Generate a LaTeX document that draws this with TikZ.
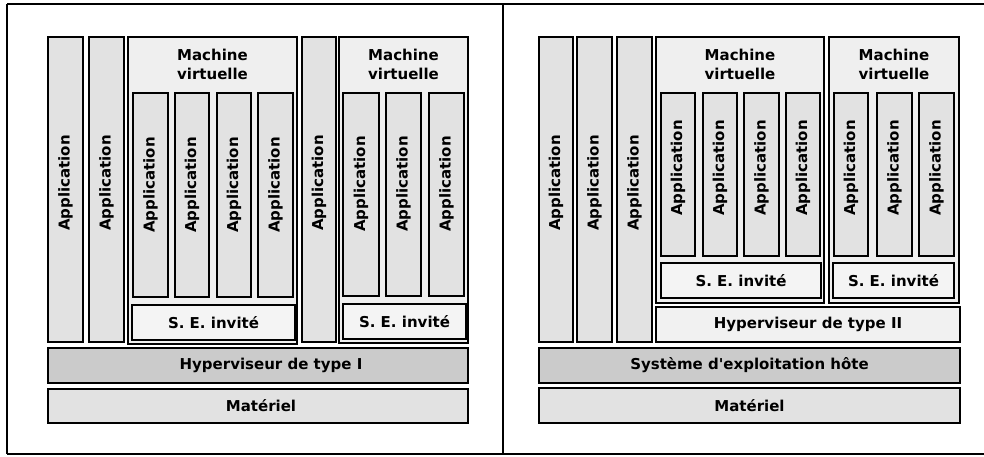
\documentclass[tikz,border=0pt]{standalone}
\usepackage{fontspec}
\setmainfont{DejaVu Sans}
% family without TeX ligature mapping, so ' stays a straight apostrophe
\newfontfamily\labelfont{DejaVu Sans}
\usetikzlibrary{fit}
\definecolor{appfill}{HTML}{E2E2E2}
\definecolor{vmfill}{HTML}{EFEFEF}
\definecolor{sefill}{HTML}{F4F4F4}
\definecolor{darkfill}{HTML}{CBCBCB}
\definecolor{hwfill}{HTML}{E2E2E2}
\definecolor{hypfill}{HTML}{F1F1F1}
\begin{document}
\begin{tikzpicture}[x=1pt,y=-1pt,
  frame/.style={line width=1.4pt},
  blk/.style={draw, inner sep=0pt, outer sep=0pt, line width=1.8pt},
  outerapp/.style={blk, fill=appfill},
  innerapp/.style={blk, line width=1.2pt, fill=appfill},
  vmbox/.style={blk, line width=1.5pt, fill=vmfill},
  sebox/.style={blk, line width=1.5pt, fill=sefill},
  darkbar/.style={blk, fill=darkfill},
  hwbar/.style={blk, fill=hwfill},
  hypbar/.style={blk, line width=1.5pt, fill=hypfill},
  lbl/.style={font=\labelfont\fontsize{15}{18}\selectfont\bfseries, inner sep=0pt},
  applbl/.style={lbl, rotate=90},
  vmlbl/.style={lbl, align=center, font=\labelfont\fontsize{15}{19}\selectfont\bfseries}
]
\useasboundingbox (0,0) rectangle (984,456);

% panel frame
\draw[frame] (7,4) -- (984,4);
\draw[frame] (7,454) -- (984,454);
\draw[frame] (7,4) -- (7,454);
\draw[frame] (503,4) -- (503,454);

% ---------------- type I hypervisor ----------------
\node[outerapp, fit={(48,37) (83,342)}] (la1) {};
\node[outerapp, fit={(89,37) (124,342)}] (la2) {};
\node[vmbox, fit={(128,37) (297,344)}] (lvm1) {};
\node[innerapp, fit={(133,93) (168,297)}] (lv1a1) {};
\node[innerapp, fit={(175,93) (209,297)}] (lv1a2) {};
\node[innerapp, fit={(217,93) (251,297)}] (lv1a3) {};
\node[innerapp, fit={(258,93) (293,297)}] (lv1a4) {};
\node[sebox, fit={(132,305) (295,340)}] (lv1se) {};
\node[outerapp, fit={(302,37) (336,342)}] (la3) {};
\node[vmbox, fit={(339,37) (468,343)}] (lvm2) {};
\node[innerapp, fit={(343,93) (379,296)}] (lv2a1) {};
\node[innerapp, fit={(386,93) (421,296)}] (lv2a2) {};
\node[innerapp, fit={(429,93) (464,296)}] (lv2a3) {};
\node[sebox, fit={(343,304) (466,339)}] (lv2se) {};
\node[darkbar, fit={(48,348) (468,383)}] (lhyp) {};
\node[hwbar, fit={(48,389) (468,423)}] (lhw) {};

\node[applbl] (tla1) at (65.5,183) {Application};
\node[applbl] (tla2) at (106.5,183) {Application};
\node[applbl] (tlv1a1) at (150.5,185) {Application};
\node[applbl] (tlv1a2) at (192,185) {Application};
\node[applbl] (tlv1a3) at (234,185) {Application};
\node[applbl] (tlv1a4) at (275.5,185) {Application};
\node[applbl] (tla3) at (319,183) {Application};
\node[applbl] (tlv2a1) at (361,184) {Application};
\node[applbl] (tlv2a2) at (403.5,184) {Application};
\node[applbl] (tlv2a3) at (446.5,184) {Application};
\node[vmlbl] (tlvm1) at (212.5,64) {Machine\\virtuelle};
\node[vmlbl] (tlvm2) at (403.5,64) {Machine\\virtuelle};
\node[lbl] (tlv1se) at (lv1se.center) {S. E. invité};
\node[lbl] (tlv2se) at (lv2se.center) {S. E. invité};
\node[lbl] (tlhyp) at (271,365.5) {Hyperviseur de type I};
\node[lbl] (tlhw) at (261,406) {Matériel};

% ---------------- type II hypervisor ----------------
\node[outerapp, fit={(539,37) (573,342)}] (ra1) {};
\node[outerapp, fit={(577,37) (612,342)}] (ra2) {};
\node[outerapp, fit={(617,37) (652,342)}] (ra3) {};
\node[vmbox, fit={(656,37) (824,303)}] (rvm1) {};
\node[innerapp, fit={(661,93) (695,256)}] (rv1a1) {};
\node[innerapp, fit={(703,93) (737,256)}] (rv1a2) {};
\node[innerapp, fit={(744,93) (779,256)}] (rv1a3) {};
\node[innerapp, fit={(786,93) (820,256)}] (rv1a4) {};
\node[sebox, fit={(661,263) (821,298)}] (rv1se) {};
\node[vmbox, fit={(829,37) (959,303)}] (rvm2) {};
\node[innerapp, fit={(834,93) (868,256)}] (rv2a1) {};
\node[innerapp, fit={(877,93) (912,256)}] (rv2a2) {};
\node[innerapp, fit={(919,93) (954,256)}] (rv2a3) {};
\node[sebox, fit={(833,263) (954,298)}] (rv2se) {};
\node[hypbar, fit={(656,307) (960,342)}] (rhyp) {};
\node[darkbar, fit={(539,348) (960,383)}] (ros) {};
\node[hwbar, fit={(539,388) (960,423)}] (rhw) {};

\node[applbl] (tra1) at (556,183) {Application};
\node[applbl] (tra2) at (594.5,183) {Application};
\node[applbl] (tra3) at (634.5,183) {Application};
\node[applbl] (trv1a1) at (678,168) {Application};
\node[applbl] (trv1a2) at (720,168) {Application};
\node[applbl] (trv1a3) at (761.5,168) {Application};
\node[applbl] (trv1a4) at (803,168) {Application};
\node[applbl] (trv2a1) at (851,168) {Application};
\node[applbl] (trv2a2) at (894.5,168) {Application};
\node[applbl] (trv2a3) at (936.5,168) {Application};
\node[vmlbl] (trvm1) at (740,64) {Machine\\virtuelle};
\node[vmlbl] (trvm2) at (894,64) {Machine\\virtuelle};
\node[lbl] (trv1se) at (rv1se.center) {S. E. invité};
\node[lbl] (trv2se) at (rv2se.center) {S. E. invité};
\node[lbl] (trhyp) at (rhyp.center) {Hyperviseur de type II};
\node[lbl] (tros) at (ros.center) {Système d'exploitation hôte};
\node[lbl] (trhw) at (rhw.center) {Matériel};
\end{tikzpicture}
\end{document}
